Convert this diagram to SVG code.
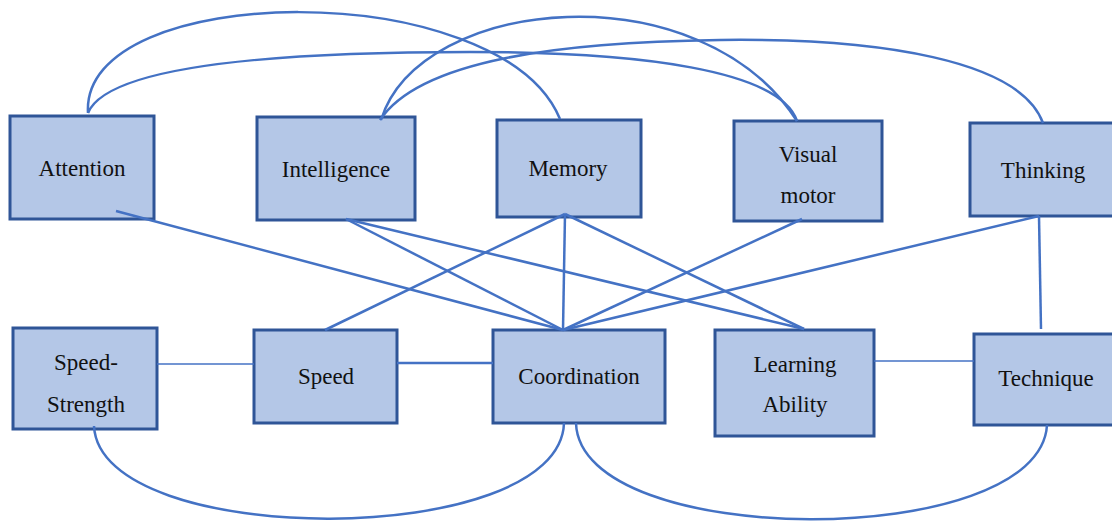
<svg xmlns="http://www.w3.org/2000/svg" width="1112" height="522" viewBox="0 0 1112 522">
<style>
.box{fill:#B4C7E7;stroke:#2F5597;stroke-width:3}
.lbl{font-family:"Liberation Serif","Times New Roman",serif;font-size:23px;fill:#111;text-anchor:middle}
.c{fill:none;stroke:#4472C4;stroke-width:2.5}
.t{fill:none;stroke:#4472C4;stroke-width:1.5}
</style>
<rect width="1112" height="522" fill="#fff"/>
<g id="nodes">
<g id="attention"><rect class="box" x="10" y="116" width="144" height="103"/><text class="lbl" x="82" y="176">Attention</text></g>
<g id="intelligence"><rect class="box" x="257" y="117" width="158" height="103"/><text class="lbl" x="336" y="177">Intelligence</text></g>
<g id="memory"><rect class="box" x="497" y="120" width="144" height="97"/><text class="lbl" x="568" y="176">Memory</text></g>
<g id="visual-motor"><rect class="box" x="734" y="121" width="148" height="100"/><text class="lbl" x="808" y="162">Visual</text><text class="lbl" x="808" y="203">motor</text></g>
<g id="thinking"><rect class="box" x="970" y="123" width="148" height="93"/><text class="lbl" x="1043" y="178">Thinking</text></g>
<g id="speed-strength"><rect class="box" x="13" y="328" width="144" height="101"/><text class="lbl" x="86" y="370">Speed-</text><text class="lbl" x="86" y="412">Strength</text></g>
<g id="speed"><rect class="box" x="254" y="330" width="143" height="93"/><text class="lbl" x="326" y="384">Speed</text></g>
<g id="coordination"><rect class="box" x="493" y="330" width="172" height="93"/><text class="lbl" x="579" y="384">Coordination</text></g>
<g id="learning-ability"><rect class="box" x="715" y="330" width="159" height="106"/><text class="lbl" x="795" y="372">Learning</text><text class="lbl" x="795" y="412">Ability</text></g>
<g id="technique"><rect class="box" x="974" y="334" width="144" height="91"/><text class="lbl" x="1046" y="386">Technique</text></g>
</g>
<g id="connectors">
<path class="c" d="M88 113 C80 -20 500 -25 560 119"/>
<path class="c" d="M88 113 C110 60 320 52 470 52 C640 52 780 70 797 121"/>
<path class="c" d="M381 120 C420 -5 700 -30 797 121"/>
<path class="c" d="M380 120 C420 60 560 42 720 40 C880 38 1020 60 1043 123"/>
<path class="c" d="M116 211 L563 330"/>
<path class="c" d="M346 219 L563 330"/>
<path class="c" d="M346 219 L804 329"/>
<path class="c" d="M565 214 L325 330"/>
<path class="c" d="M565 214 L563 330"/>
<path class="c" d="M565 214 L804 329"/>
<path class="c" d="M802 219 L563 330"/>
<path class="c" d="M1039 216 L563 330"/>
<path class="c" d="M1039 216 L1041 329"/>
<path class="t" d="M157 364 L254 364"/>
<path class="c" d="M397 363 L493 363"/>
<path class="t" d="M874 361 L974 361"/>
<path class="c" d="M94 426 C100 550 560 550 564 423"/>
<path class="c" d="M576 423 C580 551 1040 551 1047 425"/>
</g>
</svg>
